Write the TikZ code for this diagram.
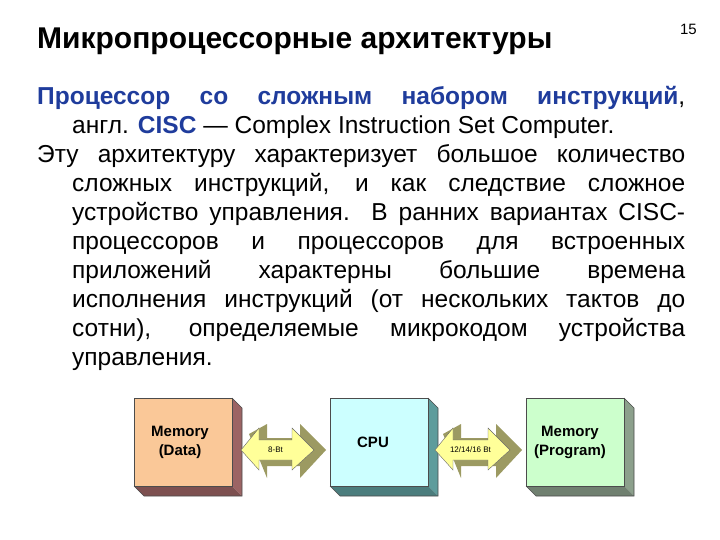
\documentclass[tikz,border=0pt]{standalone}
\usepackage{fontspec}
\setmainfont{Liberation Sans}
\definecolor{tblue}{HTML}{1F3C9C}
\definecolor{ofront}{HTML}{FAC898}\definecolor{oside}{HTML}{9C6464}
\definecolor{cfront}{HTML}{CCFFFF}\definecolor{cside}{HTML}{5E9C9C}
\definecolor{gfront}{HTML}{CCFFCC}\definecolor{gside}{HTML}{8CA08C}
\definecolor{afront}{HTML}{FFFF99}\definecolor{aside}{HTML}{9C9A62}
\begin{document}
\begin{tikzpicture}[x=1pt,y=-1pt,
 boxf/.style={draw=black!70,line width=0.6pt,minimum width=98pt,minimum height=88pt,anchor=north west,inner sep=0pt},
 blab/.style={font=\bfseries\fontsize{15}{19}\selectfont,align=center,inner sep=0pt},
 alab/.style={font=\fontsize{8}{9}\selectfont,inner sep=0pt}]
\useasboundingbox (0,0) rectangle (720,540);
\node[anchor=base west,font=\bfseries\fontsize{30}{34}\selectfont,inner sep=0pt] (title) at (37,49) {Микропроцессорные архитектуры};
\node[anchor=base east,font=\fontsize{15}{17}\selectfont,inner sep=0pt] (num) at (697,35) {15};
\node[anchor=north west,inner sep=0pt,text width=648pt,align=justify,font=\fontsize{24.5}{29}\selectfont] (body) at (37,86) {%
\hangindent=35pt\hangafter=1\noindent{\bfseries\color{tblue}Процессор со сложным набором инструкций}, \linebreak
англ. {\bfseries\color{tblue}CISC} — Complex Instruction Set Computer.\par
\hangindent=35pt\hangafter=1\noindent Эту архитектуру характеризует большое количество \linebreak
сложных инструкций, и как следствие сложное \linebreak
устройство управления. В ранних вариантах CISC-\linebreak
процессоров и процессоров для встроенных \linebreak
приложений характерны большие времена \linebreak
исполнения инструкций (от нескольких тактов до \linebreak
сотни), определяемые микрокодом устройства \linebreak
управления.\par};
% boxes
\foreach \x/\f/\s in {134/ofront/oside,330/cfront/cside,526/gfront/gside}{
 \fill[\s] (\x+98,398) -- (\x+108,408) -- (\x+108,496) -- (\x+98,486) -- cycle;
 \fill[\s!80!black] (\x,486) -- (\x+98,486) -- (\x+108,496) -- (\x+10,496) -- cycle;
 \draw[black!70,line width=0.6pt] (\x+98,398) -- (\x+108,408) -- (\x+108,496) -- (\x+10,496) -- (\x,486);
}
\node[boxf,fill=ofront] (md) at (134,398) {};
\node[boxf,fill=cfront] (cpu) at (330,398) {};
\node[boxf,fill=gfront] (mp) at (526,398) {};
\node[blab] (mdl) at (180,442) {Memory\\(Data)};
\node[blab] (cpul) at (373,442) {CPU};
\node[blab] (mpl) at (570,442) {Memory\\(Program)};
% arrows
\foreach \xa/\xb/\t/\n in {241/318/8-Bt/a1,435/514/{12/14/16 Bt}/a2}{
 \fill[aside] (\xa+8,434) -- (\xa+26,424) -- (\xa+26,438) -- (\xb-18,438) -- (\xb-18,424) -- (\xb+8,450) -- (\xb-18,478) -- (\xb-18,466) -- (\xa+26,466) -- (\xa+26,478) -- cycle;
 \fill[afront,draw=black!60,line width=0.4pt] (\xa,450) -- (\xa+18,428) -- (\xa+18,440) -- (\xb-26,440) -- (\xb-26,428) -- (\xb-4,450) -- (\xb-26,470) -- (\xb-26,460) -- (\xa+18,460) -- (\xa+18,470) -- cycle;
 \node[alab] (\n) at ({(\xa+\xb)/2-4},450) {\t};
}
\end{tikzpicture}
\end{document}
